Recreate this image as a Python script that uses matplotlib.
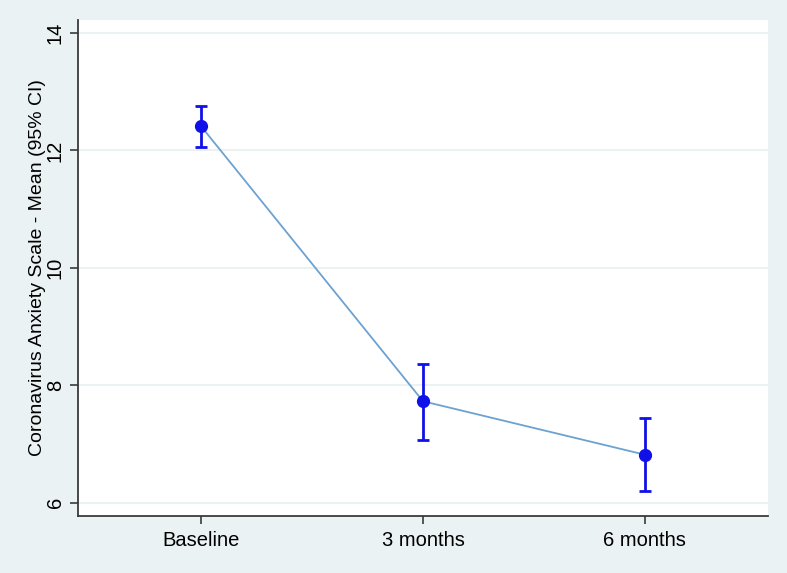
import matplotlib
matplotlib.use("Agg")
import matplotlib.pyplot as plt

plt.rcParams['font.family'] = ['Liberation Sans', 'DejaVu Sans']

# data
timepoints = ['Baseline', '3 months', '6 months']
mean = [12.41, 7.73, 6.82]
ci_low = [12.06, 7.07, 6.20]
ci_high = [12.76, 8.36, 7.44]

bg = '#EAF2F3'
fig = plt.figure(figsize=(7.87, 5.73), dpi=100, facecolor=bg)
ax = fig.add_axes([78/787, 1 - 515.5/573, 690/787, 495.5/573])
ax.set_facecolor('white')

x = list(range(1, len(timepoints) + 1))
yerr = [[m - l for m, l in zip(mean, ci_low)], [h - m for m, h in zip(mean, ci_high)]]

ax.plot(x, mean, color='#6CA2D2', lw=1.3, zorder=2)
ax.errorbar(x, mean, yerr=yerr, fmt='none', ecolor='#1010E8', elinewidth=2,
            capsize=4.5, capthick=2, zorder=3)
ax.plot(x, mean, 'o', color='#1010E8', ms=8.5, zorder=4)

ax.set_xlim(0.445, 3.555)
ax.set_ylim(5.785, 14.22)
ax.set_xticks(x)
ax.set_xticklabels(timepoints, fontsize=14.5)
ax.set_yticks([6, 8, 10, 12, 14])
ax.set_yticklabels(['6', '8', '10', '12', '14'], fontsize=14.5, rotation=90, va='center')
ax.grid(axis='y', color=bg, lw=1.5)
ax.set_axisbelow(True)
ax.set_ylabel('Coronavirus Anxiety Scale - Mean (95% CI)', fontsize=14, labelpad=0)

for s in ['top', 'right']:
    ax.spines[s].set_visible(False)
for s in ['left', 'bottom']:
    ax.spines[s].set_color('#3A3A3A')
    ax.spines[s].set_linewidth(1.3)
ax.tick_params(length=5.5, color='#3A3A3A', width=1.2)
ax.tick_params(axis='x', pad=6)
ax.tick_params(axis='y', pad=4)

fig.savefig('out.png', dpi=100, facecolor=bg)
